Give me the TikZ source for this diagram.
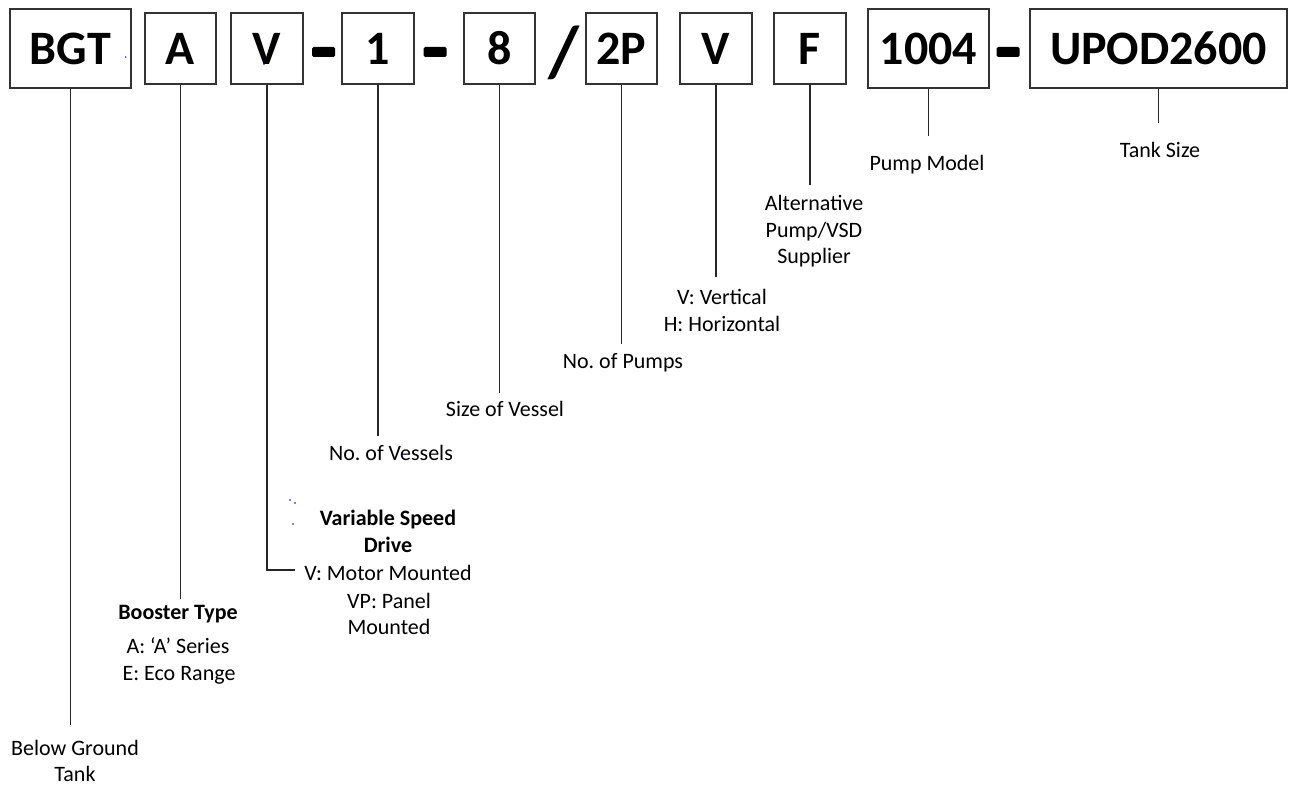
\documentclass[tikz,border=0pt]{standalone}
\usepackage{fontspec}
\setmainfont{Carlito}
\frenchspacing
\begin{document}
\begin{tikzpicture}[x=1pt,y=-1pt,
  box/.style={draw=black!80, line width=1.1pt, inner sep=0pt, minimum height=71pt,
    font=\fontsize{48}{56}\selectfont\bfseries},
  bigbox/.style={box, minimum height=79pt},
  lbl/.style={font=\fontsize{22}{27}\selectfont, inner sep=0pt, anchor=base},
  lblb/.style={lbl, font=\fontsize{22}{27}\selectfont\bfseries},
  conn/.style={draw=black!85, line width=1.1pt},
  dashbar/.style={fill=black, inner sep=0pt, minimum width=23pt, minimum height=10pt, rounded corners=1.5pt},
  slashtxt/.style={font=\fontsize{72}{80}\selectfont\bfseries, inner sep=0pt},
  dot/.style={fill=blue!70!black, circle, inner sep=0pt, minimum size=1.6pt}]

\useasboundingbox (0,0) rectangle (1289,784);

% code boxes
\node[bigbox, minimum width=121pt] (bgt) at (70.5,48.5) {BGT};
\node[box, minimum width=71pt] (a) at (180.5,48.5) {A};
\node[box, minimum width=72pt] (v1) at (267,48.5) {V};
\node[dashbar] (d1) at (323.5,52) {};
\node[box, minimum width=72pt] (n1) at (378,48.5) {1};
\node[dashbar] (d2) at (435,52) {};
\node[box, minimum width=71pt] (n8) at (499.5,48.5) {8};
\node[slashtxt] (sl) at (563.5,53) {/};
\node[box, minimum width=71pt] (p2) at (621.5,48.5) {2P};
\node[box, minimum width=72pt] (v2) at (716,48.5) {V};
\node[box, minimum width=72pt] (f) at (810,48.5) {F};
\node[bigbox, minimum width=121pt] (m) at (928.5,48.5) {1004};
\node[dashbar] (d3) at (1008,52) {};
\node[bigbox, minimum width=257pt] (u) at (1158.5,48.5) {UPOD2600};

% labels
\node[lbl] (bgt1) at (75,755) {Below Ground};
\node[lbl] (bgt2) at (75,781) {Tank};
\node[lblb] (a1) at (178,619) {Booster Type};
\node[lbl] (a2) at (178,653) {A: ‘A’ Series};
\node[lbl] (a3) at (179,680) {E: Eco Range};
\node[lblb] (v11) at (388,525) {Variable Speed};
\node[lblb] (v12) at (388,552) {Drive};
\node[lbl] (v13) at (388,580) {V: Motor Mounted};
\node[lbl] (v14) at (389,608) {VP: Panel};
\node[lbl] (v15) at (389,634) {Mounted};
\node[lbl] (n11) at (391,460) {No. of Vessels};
\node[lbl] (n81) at (505,416) {Size of Vessel};
\node[lbl] (p21) at (623,368) {No. of Pumps};
\node[lbl] (v21) at (722,304) {V: Vertical};
\node[lbl] (v22) at (722,331) {H: Horizontal};
\node[lbl] (f1) at (814,210) {Alternative};
\node[lbl] (f2) at (814,237) {Pump/VSD};
\node[lbl] (f3) at (814,263) {Supplier};
\node[lbl] (m1) at (927,170) {Pump Model};
\node[lbl] (u1) at (1160,157) {Tank Size};

% connector ends
\coordinate (ebgt) at (70.5,725);
\coordinate (ea) at (180.5,599);
\coordinate (ev1) at (267,570);
\coordinate (ev1b) at (295,570);
\coordinate (en1) at (378,436);
\coordinate (en8) at (499.5,393);
\coordinate (ep2) at (621.5,344);
\coordinate (ev2) at (716,277);
\coordinate (ef) at (810,185);
\coordinate (em) at (928.5,136);
\coordinate (eu) at (1158.5,123);

\draw[conn] (bgt.south) -- (ebgt);
\draw[conn] (a.south) -- (ea);
\draw[conn] (v1.south) -- (ev1) -- (ev1b);
\draw[conn] (n1.south) -- (en1);
\draw[conn] (n8.south) -- (en8);
\draw[conn] (p2.south) -- (ep2);
\draw[conn] (v2.south) -- (ev2);
\draw[conn] (f.south) -- (ef);
\draw[conn] (m.south) -- (em);
\draw[conn] (u.south) -- (eu);

% stray dots
\node[dot] (s1) at (125.6,57) {};
\node[dot] (s2) at (264,64) {};
\node[dot] (s3) at (290,500) {};
\node[dot] (s4) at (295,503) {};
\node[dot] (s5) at (293,524) {};
\node[dot] (s6) at (402,454) {};
\end{tikzpicture}
\end{document}
